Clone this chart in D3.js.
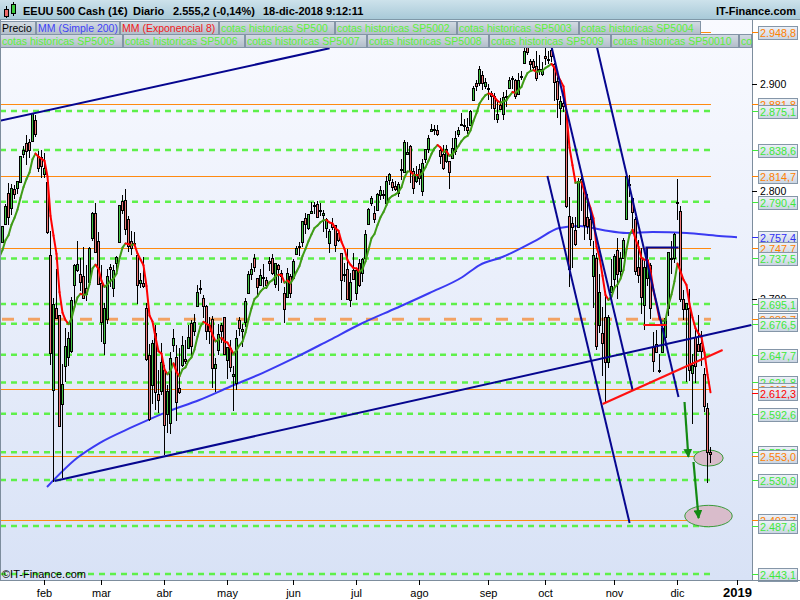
<!DOCTYPE html>
<html><head><meta charset="utf-8">
<script src="https://cdn.jsdelivr.net/npm/d3@7"></script>
<style>body{margin:0;background:#fff} svg{display:block;font-family:"Liberation Sans",Arial,sans-serif}</style>
</head><body><svg id="c" width="800" height="600"></svg>
<script>
// ---- DATA (daily candles, index 0 = 11-ene-2018 ... 236 = 18-dic-2018) ----
const open=[2753,2770,2799,2785,2802,2803,2809,2835,2845,2846,2847,2867,2833,2832,
2816,2809,2741,2615,2691,2685,2602,2637,2646,2651,2713,2727,2723,2721,2710,2716,2757,2780,2754,
2715,2659,2681,2730,2710,2733,2753,2791,2792,2774,2754,2751,2741,2715,2715,2691,2647,2619,2668,2611,2614,
2633,2592,2584,2657,2646,2617,2638,2644,2654,2677,2670,2693,2710,2701,2693,2675,2681,2635,2652,2675,2683,
2643,2654,2628,2621,2680,2670,2678,2705,2723,2738,2719,2713,2720,2717,2735,2738,2714,2731,2724,2705,2702,2721,
2719,2742,2748,2753,2775,2766,2780,2786,2788,2783,2778,2766,2752,2770,2769,2761,2743,2722,2728,2699,2727,
2705,2733,2724,2738,2770,2789,2780,2783,2797,2797,2789,2811,2809,2805,2799,2821,2818,2835,2842,2819,2810,
2821,2800,2830,2840,2856,2857,2857,2839,2835,2828,2828,2831,2838,2854,2862,2861,2860,2862,2885,2901,2901,2909,2898,
2897,2892,2889,2868,2881,2872,2888,2897,2906,2904,2891,2907,2920,2937,2922,2922,2917,2912,2910,
2926,2924,2932,2919,2903,2878,2883,2874,2777,2771,2764,2767,2812,2802,2776,2774,2721,2738,2675,2668,2683,2641,2706,
2718,2745,2726,2738,2774,2806,2794,2774,2730,2738,2694,2719,2731,2655,2658,2633,2650,2664,2691,2737,2738,
2790,2782,2700,2690,2691,2631,2664,2658,2659,2630,2598,2557];
const high=[2768,2788,2808,2807,2806,2810,2833,2842,2853,2849,2873,2871,2838,2839,
2836,2809,2763,2701,2728,2685,2639,2673,2669,2702,2732,2754,2738,2748,2731,2748,2781,2789,2762,
2731,2696,2728,2732,2731,2740,2787,2797,2802,2777,2763,2762,2741,2724,2739,2696,2658,2661,2675,2633,2659,
2638,2619,2650,2672,2657,2654,2665,2661,2675,2680,2686,2713,2717,2703,2694,2683,2684,2645,2676,2677,2683,
2655,2661,2637,2671,2683,2676,2701,2726,2733,2742,2719,2728,2732,2720,2739,2742,2733,2732,2727,2711,2729,2723,
2737,2749,2753,2772,2780,2779,2790,2790,2791,2789,2783,2775,2765,2775,2769,2764,2743,2733,2746,2724,2743,
2727,2737,2738,2764,2785,2796,2786,2799,2805,2801,2814,2817,2812,2810,2809,2830,2848,2846,2843,2822,2824,
2826,2830,2840,2853,2863,2862,2862,2842,2843,2843,2828,2850,2856,2860,2873,2868,2869,2876,2898,2904,2917,2912,2906,
2900,2894,2892,2884,2887,2893,2895,2907,2908,2905,2911,2912,2935,2941,2924,2924,2931,2927,2921,
2937,2931,2940,2920,2910,2889,2895,2874,2795,2776,2776,2813,2817,2806,2798,2779,2754,2743,2723,2692,2707,2685,2737,
2742,2757,2744,2757,2815,2815,2794,2776,2755,2747,2735,2747,2733,2669,2671,2648,2674,2683,2744,2754,2761,
2812,2786,2708,2696,2709,2648,2674,2685,2670,2635,2603,2562];
const low=[2753,2770,2769,2778,2793,2798,2808,2831,2825,2831,2846,2851,2818,2813,
2813,2760,2638,2529,2681,2581,2533,2622,2637,2649,2690,2725,2707,2701,2698,2714,2754,2743,2714,
2660,2647,2676,2711,2702,2723,2752,2779,2759,2744,2741,2750,2695,2710,2710,2642,2586,2602,2596,2593,2610,
2554,2575,2574,2650,2586,2611,2636,2639,2654,2645,2665,2692,2704,2682,2661,2658,2617,2613,2647,2659,2648,
2625,2632,2595,2615,2665,2655,2674,2705,2717,2725,2702,2712,2711,2709,2726,2722,2710,2707,2715,2677,2702,2701,
2719,2741,2740,2748,2760,2764,2780,2779,2775,2777,2762,2757,2743,2764,2744,2753,2699,2716,2699,2692,2718,
2699,2711,2716,2734,2770,2786,2771,2782,2792,2793,2789,2806,2800,2800,2795,2811,2818,2835,2808,2798,2808,
2806,2796,2827,2836,2856,2853,2852,2826,2820,2827,2802,2831,2834,2851,2861,2856,2854,2862,2885,2894,2898,2895,2896,
2885,2877,2867,2864,2876,2867,2879,2896,2896,2886,2890,2904,2920,2927,2913,2914,2903,2909,2908,
2918,2919,2921,2884,2869,2862,2874,2785,2711,2729,2749,2767,2782,2755,2760,2749,2691,2652,2668,2628,2604,2635,2706,
2709,2700,2718,2737,2774,2795,2764,2722,2715,2686,2671,2712,2681,2632,2650,2631,2650,2656,2684,2723,2733,
2773,2697,2680,2622,2623,2583,2621,2650,2637,2594,2528,2547];
const close=[2768,2786,2776,2803,2798,2810,2833,2839,2838,2839,2873,2854,2822,2824,
2822,2762,2649,2695,2682,2581,2620,2656,2663,2699,2731,2732,2716,2701,2704,2747,2780,2744,2714,
2678,2691,2721,2728,2727,2739,2787,2783,2765,2749,2747,2752,2713,2717,2712,2644,2588,2659,2613,2605,2641,
2582,2614,2645,2663,2604,2613,2657,2642,2664,2656,2678,2706,2709,2693,2670,2670,2635,2639,2667,2670,2648,
2655,2636,2630,2663,2673,2672,2698,2723,2728,2730,2711,2722,2720,2713,2733,2724,2733,2728,2721,2690,2724,2705,
2735,2747,2749,2772,2770,2779,2782,2787,2776,2782,2780,2774,2763,2767,2750,2755,2717,2723,2700,2716,2718,
2727,2713,2737,2760,2784,2794,2774,2798,2801,2798,2810,2816,2804,2802,2807,2820,2846,2837,2819,2803,2816,
2813,2827,2840,2850,2858,2858,2854,2833,2822,2840,2818,2841,2850,2857,2863,2862,2857,2875,2897,2898,2914,2901,2902,
2897,2889,2878,2872,2877,2888,2889,2904,2905,2889,2904,2908,2931,2930,2919,2916,2906,2914,2914,
2925,2923,2926,2902,2886,2884,2880,2786,2728,2767,2751,2810,2809,2769,2768,2756,2741,2656,2706,2659,2641,2683,2712,
2740,2723,2738,2755,2814,2807,2781,2726,2722,2702,2730,2736,2691,2642,2650,2633,2673,2682,2744,2738,2760,
2790,2700,2690,2696,2633,2638,2637,2651,2651,2600,2557,2555];
const emaSeed=2739;                       // EMA(8) value just before the first candle
// MM (Simple 200) at candle indices
const smaIdx=[15,25,32.5,43.5,54.8,65.8,75.8,86.8,98.2,109.2,120.2,131.5,142.5,153.5,159.2,166.8,178.2,185.8,192.5,200.2,208.2,216.8,228.2,239,245];
const smaVal=[2524.3,2551.3,2565.3,2580.3,2594.2,2605.4,2617.6,2630.6,2645.6,2661.4,2677.3,2691.3,2705.3,2720.2,2731.4,2738.9,2754.7,2765.9,2767.8,2764.1,2761.3,2762.3,2761.3,2758.5,2757.4];
const monthIdx=[14,33,54,75,97,118,139,162,181,204,225,245];
const monthLabels=["feb","mar","abr","may","jun","jul","ago","sep","oct","nov","dic","2019"];
const orangeLevels=[2948.8,2881.8,2814.7,2747.7,2615.3,2553.0,2493.7];
const orangeDashed=[2680.7];
const greenLevels=[2875.1,2838.6,2790.4,2737.5,2695.1,2676.5,2647.7,2621.8,2592.6,2556.8,2530.9,2487.8,2443.1];
const smaLast=2757.4, emaLast=2612.3;
const axisTicks=[2700,2800,2900];
const legendRow1=["Precio","MM (Simple 200)","MM (Exponencial 8)","cotas historicas SP500","cotas historicas SP5002",
"cotas historicas SP5003","cotas historicas SP5004"];
const legendRow2=["cotas historicas SP5005","cotas historicas SP5006","cotas historicas SP5007","cotas historicas SP5008",
"cotas historicas SP5009","cotas historicas SP50010","co"];
// drawn objects (index, value)
const navyLines=[[-0.8,2866.0,109.2,2933.6],[17.5,2529.9,249.8,2675.4],[181.8,2814.4,209.2,2490.7],
                 [183.2,2934.8,210.2,2614.8],[198.3,2934.8,225.5,2608.2]];
const navyBracket=[[214.8,2738],[214.8,2747.7],[225.5,2747.7]];
const redLines=[[200.2,2601.7,240.2,2652.1],[213.8,2675.4,221.5,2675.4]];
const arrows=[[227.5,2603.6,228.8,2552.3],[230.5,2547.6,232.2,2495.3]];
const ellipses=[[235.5,2551.3,14.7,8],[235.5,2497.2,23.7,10.7]];

// ---- SCALES ----
const svg=d3.select("#c");
const x=d3.scaleLinear().domain([0,236]).range([2,710]);
const y=d3.scaleLinear().domain([2443.1,2948.8]).range([574,32]);
const esLocale=d3.formatLocale({decimal:",",thousands:".",grouping:[3],currency:["","€"]});
const f1=esLocale.format(",.1f"), f0=esLocale.format(",.0f");
const PR=752, PT=20, PB=580;

const defs=svg.append("defs");
function grad(id,c1,c2){const g=defs.append("linearGradient").attr("id",id).attr("x1",0).attr("y1",0).attr("x2",0).attr("y2",1);
 g.append("stop").attr("offset","0%").attr("stop-color",c1);g.append("stop").attr("offset","100%").attr("stop-color",c2);}
grad("gPlot","#f9faff","#d8e2f6");grad("gHead","#cde2eb","#a6c8d7");grad("gLeg","#d3dbe3","#b1bdc9");grad("gLab","#eef2f8","#c9d4e2");
defs.append("clipPath").attr("id","clipP").append("rect").attr("x",0).attr("y",PT).attr("width",PR).attr("height",PB-PT);
defs.append("marker").attr("id","ah").attr("viewBox","0 0 10 10").attr("refX",9).attr("refY",5)
 .attr("markerWidth",4).attr("markerHeight",4).attr("markerUnits","strokeWidth").attr("orient","auto")
 .append("path").attr("d","M0,0L10,5L0,10Z").attr("fill","#138a13");

// backgrounds
svg.append("rect").attr("width",800).attr("height",600).attr("fill","#fff");
svg.append("rect").attr("x",0).attr("y",PT).attr("width",PR).attr("height",PB-PT).attr("fill","url(#gPlot)");

const plot=svg.append("g").attr("clip-path","url(#clipP)");
const xEnd=x(236)+1;
// level lines
plot.selectAll(".gl").data(greenLevels).join("line").attr("x1",0).attr("x2",xEnd)
 .attr("y1",d=>y(d)).attr("y2",d=>y(d)).attr("stroke","#5ef04a").attr("stroke-width",2.5).attr("stroke-dasharray","6 5");
plot.selectAll(".ol").data(orangeLevels).join("line").attr("x1",0).attr("x2",xEnd)
 .attr("y1",d=>Math.round(y(d))+0.5).attr("y2",d=>Math.round(y(d))+0.5).attr("stroke","#ff8a10").attr("stroke-width",1);
plot.selectAll(".od").data(orangeDashed).join("line").attr("x1",2).attr("x2",xEnd)
 .attr("y1",d=>y(d)).attr("y2",d=>y(d)).attr("stroke","#f2a263").attr("stroke-width",3).attr("stroke-dasharray","12 14");

// SMA 200
plot.append("path").datum(smaIdx.map((d,k)=>[d,smaVal[k]]))
 .attr("d",d3.line().x(d=>x(d[0])).y(d=>y(d[1])).curve(d3.curveMonotoneX))
 .attr("fill","none").attr("stroke","#3a3af2").attr("stroke-width",2);

// ellipses
plot.selectAll(".el").data(ellipses).join("ellipse").attr("cx",d=>x(d[0])).attr("cy",d=>y(d[1]))
 .attr("rx",d=>d[2]).attr("ry",d=>d[3]).attr("fill","#d9bccb").attr("stroke","#3a9a3a").attr("stroke-width",1);

// candles
const cg=plot.append("g").attr("shape-rendering","crispEdges");
close.forEach((c,i)=>{
 const cx=Math.round(x(i)), o=open[i];
 cg.append("line").attr("x1",cx+0.5).attr("x2",cx+0.5).attr("y1",y(high[i])).attr("y2",y(low[i])).attr("stroke","#000");
 const yt=Math.round(y(Math.max(o,c))), yb=Math.round(y(Math.min(o,c)));
 cg.append("rect").attr("x",cx-0.5).attr("y",yt+0.5).attr("width",2).attr("height",Math.max(1,yb-yt))
  .attr("fill",c>=o?"#45c245":"#ec7676").attr("stroke","#000").attr("stroke-width",1);
});

// EMA 8 computed from closes (starting from the seed value one bar before the first candle)
const k=2/9; const ema=[emaSeed]; let e=emaSeed;
close.forEach(c=>{e=e+(c-e)*k; ema.push(e);});
for(let j=1;j<ema.length;j++){
 const i=j-1;
 plot.append("line").attr("x1",x(i-1)+0.5).attr("y1",y(ema[j-1])).attr("x2",x(i)+0.5).attr("y2",y(ema[j]))
  .attr("stroke",ema[j]>=ema[j-1]?"#3f9c16":"#ff0000").attr("stroke-width",2).attr("stroke-linecap","round");
}

// trend lines
plot.selectAll(".nl").data(navyLines).join("line").attr("x1",d=>x(d[0])).attr("y1",d=>y(d[1]))
 .attr("x2",d=>x(d[2])).attr("y2",d=>y(d[3])).attr("stroke","#06068f").attr("stroke-width",2);
plot.append("path").datum(navyBracket).attr("d",d3.line().x(d=>x(d[0])).y(d=>y(d[1])))
 .attr("fill","none").attr("stroke","#06068f").attr("stroke-width",2);
plot.selectAll(".rl").data(redLines).join("line").attr("x1",d=>x(d[0])).attr("y1",d=>y(d[1]))
 .attr("x2",d=>x(d[2])).attr("y2",d=>y(d[3])).attr("stroke","#ff1010").attr("stroke-width",2);
plot.selectAll(".ar").data(arrows).join("line").attr("x1",d=>x(d[0])).attr("y1",d=>y(d[1]))
 .attr("x2",d=>x(d[2])).attr("y2",d=>y(d[3])).attr("stroke","#138a13").attr("stroke-width",2.2).attr("marker-end","url(#ah)");

plot.append("text").attr("x",2).attr("y",578).attr("font-size",11).attr("fill","#000").text("©IT-Finance.com");

// right axis panel
svg.append("rect").attr("x",PR).attr("y",PT).attr("width",800-PR).attr("height",PB-PT).attr("fill","#fff");
svg.append("line").attr("x1",PR+0.5).attr("x2",PR+0.5).attr("y1",PT).attr("y2",PB).attr("stroke","#7d8d9d");
svg.append("line").attr("x1",0.5).attr("x2",0.5).attr("y1",PT).attr("y2",PB).attr("stroke","#7d8d9d");
const ra=svg.append("g");
axisTicks.forEach(t=>{
 ra.append("line").attr("x1",PR).attr("x2",PR+5).attr("y1",Math.round(y(t))+0.5).attr("y2",Math.round(y(t))+0.5).attr("stroke","#000");
 ra.append("text").attr("x",PR+8).attr("y",y(t)+4).attr("font-size",10.5).attr("fill","#000").text(f0(t));
});
const labs=[];
orangeLevels.concat(orangeDashed).forEach(v=>labs.push([v,"#ff8000"]));
greenLevels.forEach(v=>labs.push([v,"#3ee83a"]));
labs.push([smaLast,"#2f2ff5"]);labs.push([emaLast,"#ff0000"]);
labs.sort((a,b)=>b[0]-a[0]);
labs.forEach(([v,col])=>{
 const yy=Math.round(y(v));
 ra.append("line").attr("x1",PR).attr("x2",PR+6).attr("y1",yy+0.5).attr("y2",yy+0.5).attr("stroke",col);
 ra.append("rect").attr("x",758.5).attr("y",yy-5.5).attr("width",39).attr("height",13).attr("fill","url(#gLab)").attr("stroke","#8596a8");
 ra.append("text").attr("x",760).attr("y",yy+5).attr("font-size",10.8).attr("fill",col).text(f1(v));
});

// bottom axis
svg.append("line").attr("x1",0).attr("x2",800).attr("y1",PB+0.5).attr("y2",PB+0.5).attr("stroke","#7d8d9d");
const ba=svg.append("g");
monthIdx.forEach((mi,j)=>{
 const xx=Math.round(x(mi))+0.5;
 ba.append("line").attr("x1",xx).attr("x2",xx).attr("y1",PB).attr("y2",PB+5).attr("stroke","#000");
 ba.append("text").attr("x",xx).attr("y",597).attr("text-anchor","middle").attr("font-size",j==11?13:11)
  .attr("font-weight",j==11?"bold":"normal").attr("fill","#000").text(monthLabels[j]);
});

// legend (box layout in pixels)
const legColors=n=>n==="Precio"?"#000":n.startsWith("MM (S")?"#3f3ff8":n.startsWith("MM (E")?"#f21818":"#5cf03a";
const rowX=[[0,36,120,219,335,457,579,701],[0,123,245,367,489,611,739,752]];
const lg=svg.append("g").attr("clip-path","url(#clipP)");
[legendRow1,legendRow2].forEach((names,r)=>{
 names.forEach((n,j)=>{
  const x0=rowX[r][j], w=rowX[r][j+1]-x0-1, ty=21+r*13;
  lg.append("rect").attr("x",x0+0.5).attr("y",ty+0.5).attr("width",w).attr("height",13).attr("fill","url(#gLeg)").attr("stroke","#8394a6");
  lg.append("text").attr("x",x0+2).attr("y",ty+11).attr("font-size",10.5).attr("fill",legColors(n)).text(n);
 });
});

// header
svg.append("rect").attr("x",0).attr("y",0).attr("width",800).attr("height",20).attr("fill","url(#gHead)");
svg.append("line").attr("x1",0).attr("x2",800).attr("y1",19.5).attr("y2",19.5).attr("stroke","#7f98a8");
svg.append("line").attr("x1",6.5).attr("x2",6.5).attr("y1",6).attr("y2",18).attr("stroke","#000");
svg.append("rect").attr("x",4.5).attr("y",9.5).attr("width",4).attr("height",7).attr("fill","#ec6a6a").attr("stroke","#000");
svg.append("line").attr("x1",13.5).attr("x2",13.5).attr("y1",2).attr("y2",16).attr("stroke","#000");
svg.append("rect").attr("x",11.5).attr("y",4.5).attr("width",4).attr("height",9).attr("fill","#3ccc3c").attr("stroke","#000");
const hd=svg.append("g").attr("font-size",11).attr("font-weight","bold").attr("fill","#000");
hd.append("text").attr("x",23).attr("y",15).text("EEUU 500 Cash (1€)");
hd.append("text").attr("x",133).attr("y",15).text("Diario");
hd.append("text").attr("x",173).attr("y",15).text("2.555,2 (-0,14%)");
hd.append("text").attr("x",263).attr("y",15).text("18-dic-2018 9:12:11");
hd.append("text").attr("x",796).attr("y",15).attr("text-anchor","end").text("IT-Finance.com");
</script></body></html>
